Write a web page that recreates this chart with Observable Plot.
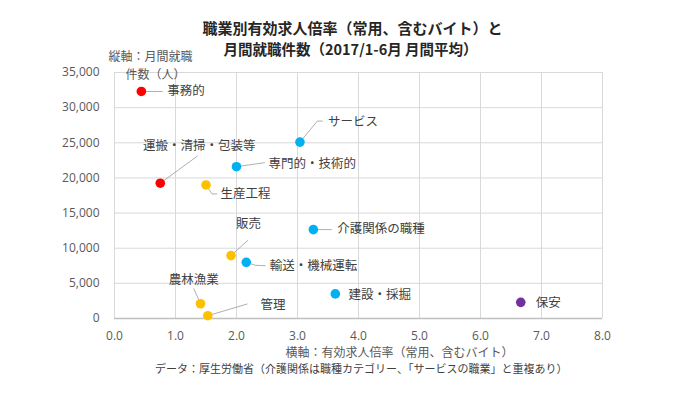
<!DOCTYPE html>
<html><head><meta charset="utf-8">
<script src="https://cdn.jsdelivr.net/npm/d3@7"></script>
<script src="https://cdn.jsdelivr.net/npm/@observablehq/plot@0.6"></script>
<style>
html,body{margin:0;padding:0;background:#fff;}
#chart svg{display:block;}
</style>
</head><body><div id="chart"></div>
<script>
// ---- data ----
const categories = ["事務的","運搬・清掃・包装等","生産工程","専門的・技術的","サービス","介護関係の職種","販売","輸送・機械運転","農林漁業","管理","建設・採掘","保安"];
const ratio = [0.44, 0.75, 1.50, 2.00, 3.04, 3.26, 1.91, 2.16, 1.41, 1.53, 3.62, 6.66];
const jobs  = [32300, 19250, 19000, 21600, 25100, 12650, 8950, 8000, 2100, 400, 3500, 2300];
const groups = ["1倍未満","1倍未満","1〜2倍","2〜5倍","2〜5倍","2〜5倍","1〜2倍","2〜5倍","1〜2倍","1〜2倍","2〜5倍","5倍以上"];
const groupNames = ["1倍未満","1〜2倍","2〜5倍","5倍以上"];
const xTicks = [0,1,2,3,4,5,6,7,8];
const yTicks = [0,5000,10000,15000,20000,25000,30000,35000];
const title1 = "職業別有効求人倍率（常用、含むバイト）と";
const title2 = "月間就職件数（2017/1-6月 月間平均）";
const yTitle1 = "縦軸：月間就職";
const yTitle2 = "件数（人）";
const xTitle = "横軸：有効求人倍率（常用、含むバイト）";
const caption = "データ：厚生労働省（介護関係は職種カテゴリー、「サービスの職業」と重複あり）";

// ---- layout (pixel offsets of labels / leader lines relative to each point) ----
const labelLayout = [
  {t:[26,0], a:"start", p:[[5,0],[21,0]]},
  {t:[39,-37], a:"middle", p:[[0,0],[37,-27]]},
  {t:[14.5,9], a:"start", p:[[0,0],[6,9],[11,9]]},
  {t:[32,-3], a:"start", p:[[0,0],[28,-4]]},
  {t:[28,-20.5], a:"start", p:[[0,0],[17.4,-21],[22.4,-21]]},
  {t:[24,-0.5], a:"start", p:[[0,0],[18,0]]},
  {t:[17.6,-31.5], a:"middle", p:[[0,0],[16.6,-15]]},
  {t:[23.6,3.3], a:"start", p:[[0,0],[9,3],[19,3.5]]},
  {t:[-6.7,-24], a:"middle", p:[[0,0],[-6.7,-15]]},
  {t:[52.7,-10.7], a:"start", p:[[0,0],[39.4,-11.7]]},
  {t:[13.3,0.7], a:"start", p:[]},
  {t:[15,0.6], a:"start", p:[]}
];

const W = 677, H = 396;
const mL = 114, mR = 75, mT = 72, mB = 78;
const xDomain = [0, 8], yDomain = [0, 35000];
const kx = (xDomain[1]-xDomain[0]) / (W - mL - mR);
const ky = (yDomain[1]-yDomain[0]) / (H - mT - mB);

const pts = categories.map((name, i) => ({name, x: ratio[i], y: jobs[i], g: groups[i]}));
const labels = pts.map((d, i) => ({...d, lx: d.x + labelLayout[i].t[0]*kx, ly: d.y - labelLayout[i].t[1]*ky, a: labelLayout[i].a}));
const leaders = [];
pts.forEach((d, i) => labelLayout[i].p.forEach(([px, py]) => leaders.push({name: d.name, x: d.x + px*kx, y: d.y - py*ky})));

const font = "'Noto Sans CJK JP', 'Noto Sans', sans-serif";
const numFont = "'Open Sans', 'Noto Sans', sans-serif";

const chart = Plot.plot({
  width: W, height: H,
  marginLeft: mL, marginRight: mR, marginTop: mT, marginBottom: mB,
  style: {fontFamily: font, background: "#fff"},
  x: {domain: xDomain},
  y: {domain: yDomain},
  color: {domain: groupNames, range: ["#ff0000", "#ffc000", "#00b0f0", "#7030a0"]},
  marks: [
    Plot.gridX(xTicks, {stroke: "#d9d9d9", strokeOpacity: 1, strokeWidth: 1}),
    Plot.gridY(yTicks, {stroke: "#d9d9d9", strokeOpacity: 1, strokeWidth: 1}),
    Plot.ruleY([0], {stroke: "#bfbfbf", strokeWidth: 1.3}),
    Plot.axisX(xTicks, {tickSize: 0, tickPadding: 13, tickFormat: d => d.toFixed(1), fontSize: 12, fontFamily: numFont, fill: "#595959", label: null}),
    Plot.axisY(yTicks, {tickSize: 0, tickPadding: 15, tickFormat: d3.format(","), fontSize: 12, fontFamily: numFont, fill: "#595959", label: null}),
    Plot.line(leaders, {x: "x", y: "y", z: "name", stroke: "#a6a6a6", strokeWidth: 0.9, curve: "linear"}),
    Plot.dot(pts, {x: "x", y: "y", fill: "g", r: 4.8, stroke: "none"}),
    Plot.text(labels.filter(d => d.a === "start"), {x: "lx", y: "ly", text: "name", textAnchor: "start", fontSize: 12.5, fill: "#404040"}),
    Plot.text(labels.filter(d => d.a === "middle"), {x: "lx", y: "ly", text: "name", textAnchor: "middle", fontSize: 12.5, fill: "#404040"}),
    Plot.text([title1], {frameAnchor: "top", dx: -6, dy: -43.5, text: d => d, fontSize: 15, fontWeight: "bold", fill: "#262626", lineAnchor: "middle"}),
    Plot.text([title2], {frameAnchor: "top", dx: -8, dy: -22.5, text: d => d, fontSize: 14.5, fontWeight: "bold", fill: "#262626", lineAnchor: "middle"}),
    Plot.text([yTitle1], {frameAnchor: "top-left", dx: -6, dy: -15, text: d => d, textAnchor: "start", fontSize: 12, fill: "#595959", lineAnchor: "middle"}),
    Plot.text([yTitle2], {frameAnchor: "top-left", dx: 11, dy: 3, text: d => d, textAnchor: "start", fontSize: 12, fill: "#595959", lineAnchor: "middle"}),
    Plot.text([xTitle], {frameAnchor: "bottom-right", dx: -89, dy: 34.5, text: d => d, textAnchor: "end", fontSize: 12, fill: "#595959", lineAnchor: "middle"}),
    Plot.text([caption], {frameAnchor: "bottom-right", dx: -35, dy: 51, text: d => d, textAnchor: "end", fontSize: 11, fill: "#404040", lineAnchor: "middle"})
  ]
});
document.getElementById("chart").appendChild(chart);
</script>
</body></html>
